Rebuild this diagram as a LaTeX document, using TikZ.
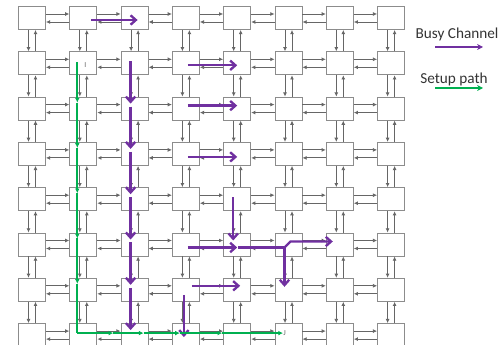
\documentclass[tikz,border=0pt]{standalone}
\usepackage{fontspec}
\setmainfont{Carlito}
\usetikzlibrary{arrows.meta,calc}
\definecolor{busycol}{RGB}{112,48,160}
\definecolor{setupcol}{RGB}{0,176,80}
\definecolor{boxgray}{RGB}{140,140,140}
\begin{document}
\begin{tikzpicture}[x=0.03cm,y=-0.03cm,
  router/.style={draw=boxgray, line width=0.8pt, fill=white, minimum width=0.81cm, minimum height=0.69cm, inner sep=0pt},
  link/.style={draw=black!60, line width=0.7pt, -{Latex[length=3.6pt,width=3.4pt]}},
  busy/.style={draw=busycol, line width=2pt, -{Straight Barb[length=4.5pt,width=8pt]}},
  busyline/.style={draw=busycol, line width=2pt},
  setup/.style={draw=setupcol, line width=1.7pt, -{Latex[length=4pt,width=4pt]}},
  setupline/.style={draw=setupcol, line width=1.7pt},
  legend/.style={font=\fontsize{13}{15}\selectfont, text=black!80, inner sep=0pt},
  tag/.style={font=\fontsize{6.5}{7}\selectfont, text=black!60, inner sep=0pt}]
\useasboundingbox (0,0) rectangle (503,345);

% routers
\foreach \r in {0,...,7}
  \foreach \c in {0,...,7}
    \node[router] (n-\r-\c) at ({32+51.3*\c},{18+45.3*\r}) {};

% links east/west
\foreach \r in {0,...,7} {
  \foreach \c [evaluate=\c as \nc using int(\c+1)] in {0,...,6} {
    \draw[link] ($(n-\r-\c.east)+(0,-4)$) -- ($(n-\r-\nc.west)+(0,-4)$);
    \draw[link] ($(n-\r-\nc.west)+(0,4)$) -- ($(n-\r-\c.east)+(0,4)$);
  }
}

% links north/south
\foreach \r [evaluate=\r as \nr using int(\r+1)] in {0,...,6} {
  \foreach \c in {0,...,7} {
    \draw[link] ($(n-\r-\c.south)+(-3.5,0)$) -- ($(n-\nr-\c.north)+(-3.5,0)$);
    \draw[link] ($(n-\nr-\c.north)+(3.5,0)$) -- ($(n-\r-\c.south)+(3.5,0)$);
  }
}

% busy channels
\draw[busy] ($(n-0-1)+(8,2)$) -- ($(n-0-2)+(3,2)$);
\draw[busy] ($(n-1-3)+(2,2)$) -- ($(n-1-4)+(0,2)$);
\draw[busy] ($(n-2-3)+(2,-3)$) -- ($(n-2-4)+(0,-3)$);
\draw[busy] ($(n-3-3)+(2,3)$) -- ($(n-3-4)+(0,3)$);
\draw[busy] ($(n-4-4)+(-4,-2)$) -- ($(n-5-4)+(-4,-4)$);
\draw[busy] ($(n-5-3)+(2,3)$) -- ($(n-5-4)+(0,3)$);
\draw[busyline] ($(n-5-4)+(1,3)$) -- ($(n-5-5)+(-4,3)$) coordinate (k);
\draw[busy] (k) -- ($(n-5-5)+(2,-3)$) -- ($(n-5-6)+(-7,-3)$);
\draw[busy] (k) -- ($(n-6-5)+(-4,-3)$);
\draw[busy] ($(n-6-3)+(6,-4)$) -- ($(n-6-4)+(3,-4)$);
\draw[busy] ($(n-6-3)+(-2,5)$) -- ($(n-7-3)+(-2,2)$);
\foreach \r [evaluate=\r as \nr using int(\r+1)] in {1,...,6}
  \draw[busy] ($(n-\r-2)+(-4,-2)$) -- ($(n-\nr-2)+(-4,-5)$);

% setup path I to J
\node[tag] (i) at ($(n-1-1)+(2,2)$) {I};
\node[tag] (j) at ($(n-7-5)+(-4,-2)$) {J};
\draw[setup] ($(n-1-1)+(-6,-1)$) -- ($(n-2-1)+(-6,-6)$);
\draw[setup] ($(n-2-1)+(-6,-6)$) -- ($(n-3-1)+(-6,-6)$);
\draw[setup] ($(n-3-1)+(-6,-6)$) -- ($(n-4-1)+(-6,-6)$);
\draw[setup] ($(n-4-1)+(-6,-6)$) -- ($(n-5-1)+(-6,-6)$);
\draw[setup] ($(n-5-1)+(-6,-6)$) -- ($(n-6-1)+(-6,-6)$);
\draw[setupline] ($(n-6-1)+(-6,-6)$) -- ($(n-7-1)+(-6,-2)$);
\draw[setup] ($(n-7-1)+(-6,-2)$) -- ($(n-7-1)+(30,-2)$);
\draw[setup] ($(n-7-1)+(30,-2)$) -- ($(n-7-2)+(9,-2)$);
\draw[setup] ($(n-7-2)+(9,-2)$) -- ($(n-7-3)+(-6,-2)$);
\draw[setup] ($(n-7-3)+(-6,-2)$) -- ($(n-7-4)+(-15,-2)$);
\draw[setup] ($(n-7-4)+(-15,-2)$) -- (j.west);

% legend
\node[legend] (busytext) at (457,34) {Busy Channel};
\node[legend] (setuptext) at (454,79) {Setup path};
\coordinate (bl) at (435,47);
\coordinate (br) at (483,47);
\coordinate (sl) at (435,88);
\coordinate (sr) at (483,88);
\draw[draw=busycol, line width=1.4pt, -{Stealth[length=5pt,width=5pt]}] (bl) -- (br);
\draw[draw=setupcol, line width=1.4pt, -{Stealth[length=5pt,width=5pt]}] (sl) -- (sr);
\end{tikzpicture}
\end{document}
